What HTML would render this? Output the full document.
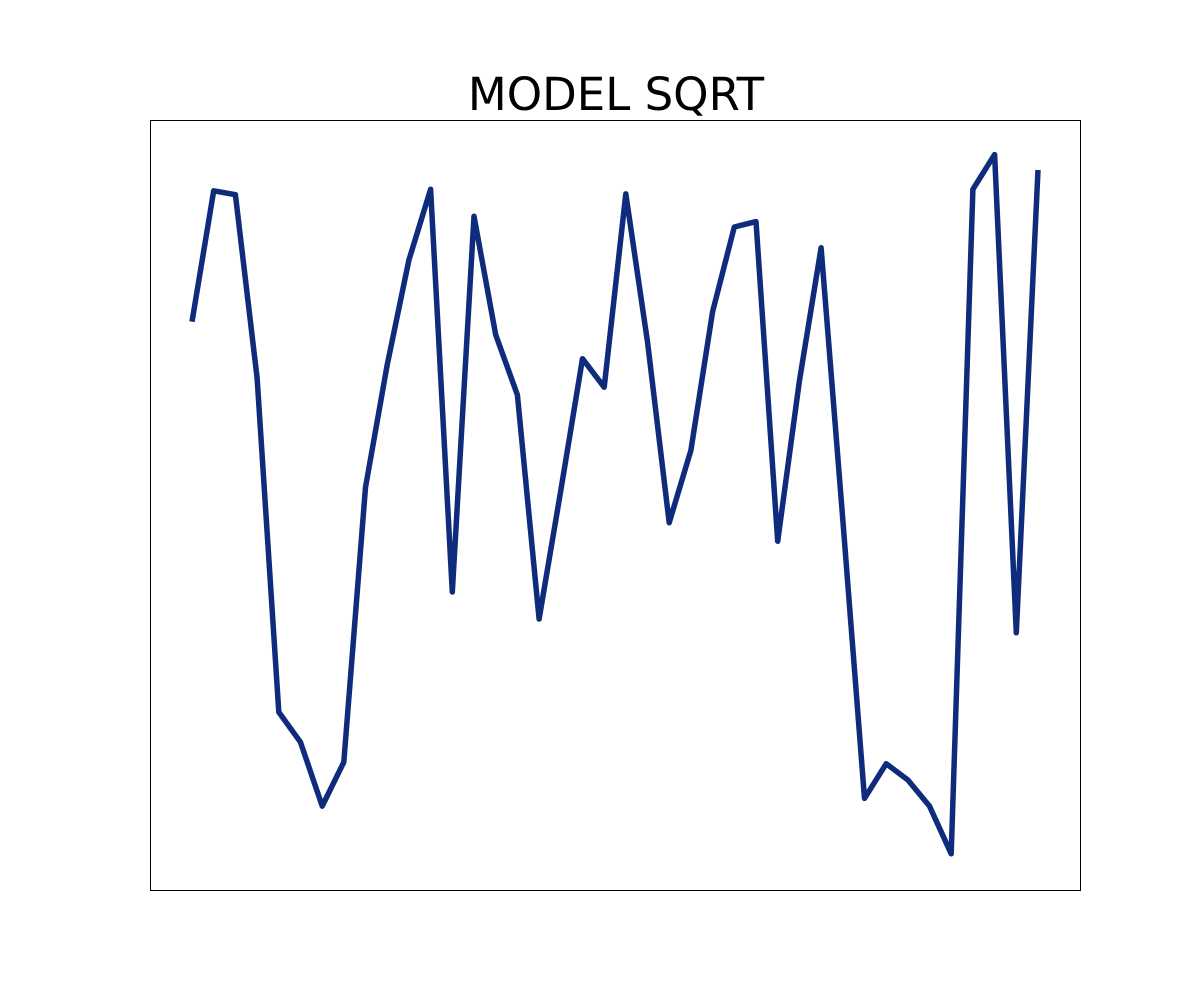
<!DOCTYPE html>
<html>
<head>
<meta charset="utf-8">
<style>
  html, body { margin: 0; padding: 0; background: #ffffff; }
  svg { display: block; }
</style>
</head>
<body>
<svg id="chart" width="1200" height="1000" viewBox="0 0 1200 1000" xmlns="http://www.w3.org/2000/svg">
  <rect x="0" y="0" width="1200" height="1000" fill="#ffffff"/>
  <text x="616" y="110" text-anchor="middle" font-family="'DejaVu Sans', 'Liberation Sans', sans-serif" font-size="45" fill="#000000">MODEL SQRT</text>
  <g id="plot"></g>
  <rect x="150.5" y="120.5" width="930" height="770" fill="none" stroke="#000000" stroke-width="1"/>
</svg>
<script>
const categories = Array.from({length: 40}, (_, i) => i);
const seriesValues = [73.8, 90.8, 90.3, 66.5, 23.1, 19.2, 10.9, 16.6, 52.3, 68.2,
                      81.8, 91.0, 38.7, 87.5, 72.1, 64.3, 35.2, 51.9, 69.0, 65.3,
                      90.4, 71.2, 47.7, 57.1, 75.1, 86.1, 86.8, 45.3, 66.1, 83.4,
                      48.1, 11.9, 16.4, 14.3, 10.9, 4.7, 91.0, 95.5, 33.4, 93.5];
const yDomain = [0, 100];

const plotLeft = 192, plotRight = 1038, plotTop = 120, plotBottom = 890;
function xScale(i) {
  return plotLeft + (plotRight - plotLeft) * i / (categories.length - 1);
}
function yScale(v) {
  return plotBottom - (v - yDomain[0]) / (yDomain[1] - yDomain[0]) * (plotBottom - plotTop);
}

const g = document.getElementById('plot');
const pts = categories.map((c, i) => xScale(i).toFixed(1) + ',' + yScale(seriesValues[i]).toFixed(1)).join(' ');
const line = document.createElementNS('http://www.w3.org/2000/svg', 'polyline');


line.setAttribute('points', pts);
line.setAttribute('fill', 'none');
line.setAttribute('stroke', '#0f2b7c');
line.setAttribute('stroke-width', '5.5');
line.setAttribute('stroke-linejoin', 'round');
line.setAttribute('stroke-linecap', 'butt');
g.appendChild(line);
</script>
</body>
</html>
